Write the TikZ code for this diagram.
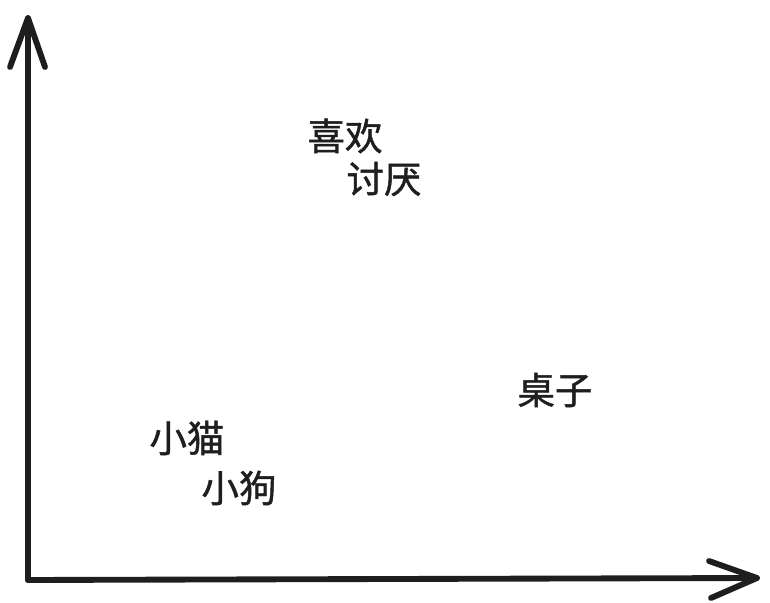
\documentclass[tikz,border=0pt]{standalone}
\usepackage{fontspec}
\newfontfamily\cjk[FakeBold=1.2]{Noto Sans CJK SC}
\usepackage{tikz}
\usetikzlibrary{positioning}
\definecolor{tinta}{HTML}{1E1E1E}

\tikzset{
  eixo/.style={draw=tinta, line width=5pt, line cap=round, line join=round},
  palavra/.style={text=tinta, inner sep=0pt, font=\cjk\fontsize{32}{38}\selectfont}
}

\begin{document}
\begin{tikzpicture}[x=0.3mm,y=-0.3mm]

\useasboundingbox (0,0) rectangle (770,603);

% Origem e pontas dos eixos
\coordinate (O) at (28,580);
\coordinate (Ytop) at (28,18);
\coordinate (Xend) at (757,578);

% Eixo vertical
\draw[eixo] (O) -- (Ytop);
\draw[eixo] (10,67) -- (Ytop) -- (45,67);

% Eixo horizontal
\draw[eixo] (O) -- (Xend);
\draw[eixo] (709,561) -- (Xend) -- (711,598);

% Palavras
\node[palavra] (gosto) at (345,136) {喜欢};
\node[palavra] (odio) at (384,179) {讨厌};
\node[palavra] (mesa) at (555,390) {桌子};
\node[palavra] (gato) at (187,438) {小猫};
\node[palavra] (cao) at (239,488) {小狗};

\end{tikzpicture}
\end{document}
